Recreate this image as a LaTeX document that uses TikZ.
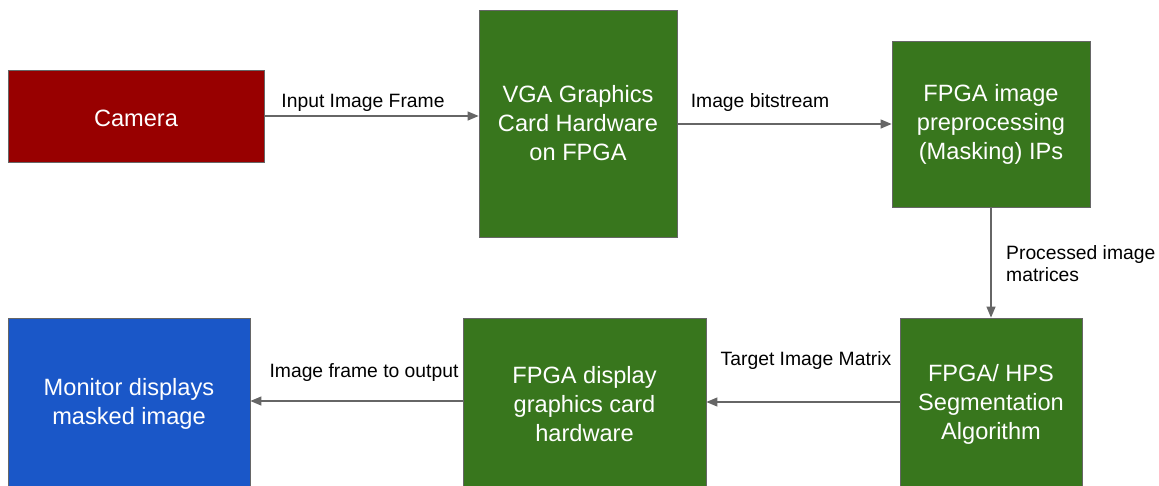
\documentclass[tikz,border=0pt]{standalone}
\usepackage{fontspec}
\setmainfont{Liberation Sans}
\usetikzlibrary{arrows.meta}
\definecolor{camred}{HTML}{980000}
\definecolor{boxgreen}{HTML}{38761D}
\definecolor{monblue}{HTML}{1A57C8}
\definecolor{edgegray}{HTML}{666666}
\definecolor{linegray}{HTML}{666666}
\tikzset{
  blk/.style={draw=edgegray, line width=0.8pt, rectangle, inner sep=0pt, align=center,
    text=white, font=\fontsize{23.6}{29}\selectfont,
    execute at begin node={\rule{0pt}{22pt}}},
  conn/.style={draw=linegray, line width=1.2pt, -{Triangle[length=11pt,width=9pt]}},
  lbl/.style={inner sep=0pt, font=\fontsize{19.3}{22}\selectfont, text=black}
}
\begin{document}
\begin{tikzpicture}[x=1pt,y=-1pt]
\clip (0,0) rectangle (1159,485);
\fill[white] (0,0) rectangle (1159,485);
% boxes
\node[blk, fill=camred, minimum width=256pt, minimum height=92pt] (cam) at (136,116) {Camera};
\node[blk, fill=boxgreen, minimum width=198pt, minimum height=227pt] (vga) at (578,123.5) {VGA Graphics\\Card Hardware\\on FPGA};
\node[blk, fill=boxgreen, minimum width=198pt, minimum height=166pt] (pre) at (991,124) {FPGA image\\preprocessing\\(Masking) IPs};
\node[blk, fill=boxgreen, minimum width=182pt, minimum height=172pt] (seg) at (991,404) {FPGA/ HPS\\Segmentation\\Algorithm};
\node[blk, fill=boxgreen, minimum width=243pt, minimum height=172pt] (disp) at (584.5,404) {FPGA display\\graphics card\\hardware};
\node[blk, fill=monblue, minimum width=242pt, minimum height=172pt] (mon) at (129,404) {Monitor displays\\masked image};
% connectors
\draw[conn] (cam.east) -- (cam.east -| vga.west);
\draw[conn] (vga.east |- pre.west) -- (pre.west);
\draw[conn] (pre.south) -- (seg.north);
\draw[conn] (seg.west |- 0,402) -- (disp.east |- 0,402);
\draw[conn] (disp.west |- 0,401) -- (mon.east |- 0,401);
% labels
\node[lbl] (l1) at (363,103) {Input Image Frame};
\node[lbl] (l2) at (760,103) {Image bitstream};
\node[lbl, anchor=west, align=left] (l3) at (1006,264) {Processed image\\matrices};
\node[lbl] (l4) at (806,361) {Target Image Matrix};
\node[lbl] (l5) at (364,373) {Image frame to output};
\end{tikzpicture}
\end{document}
